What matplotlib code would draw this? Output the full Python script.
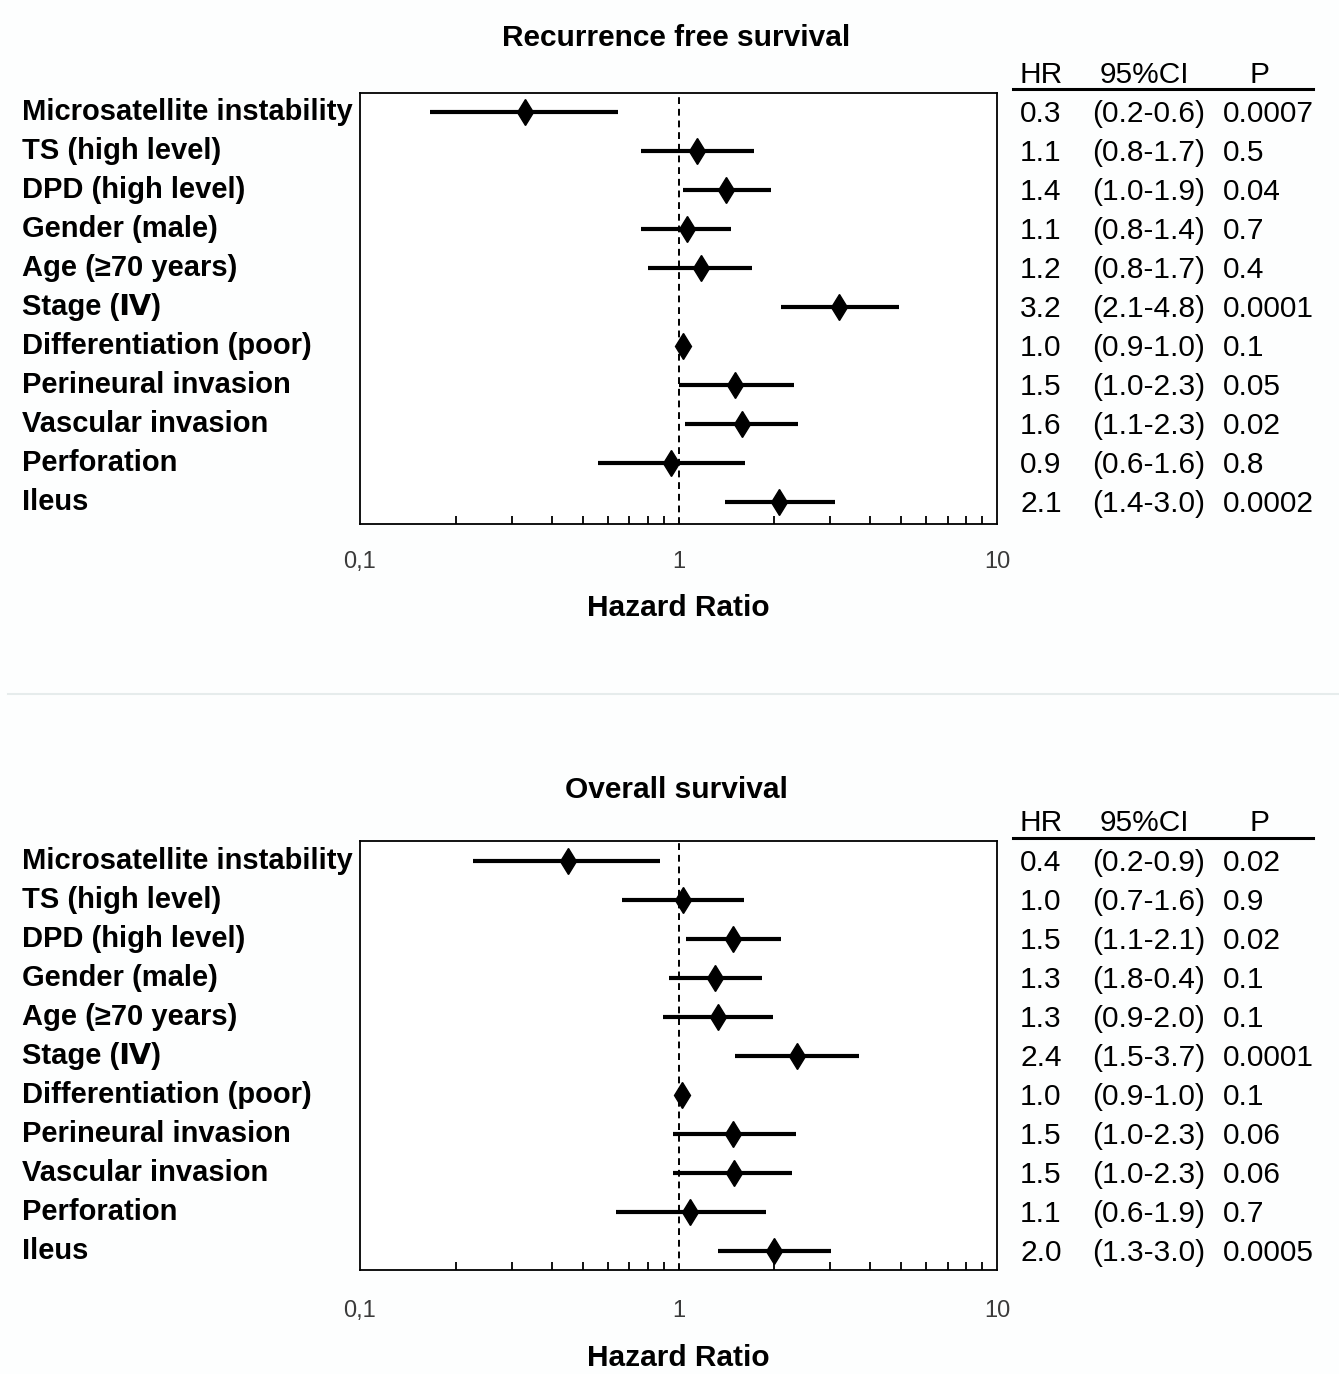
import matplotlib
matplotlib.use("Agg")
import matplotlib.pyplot as plt
import matplotlib.transforms as mtransforms
from matplotlib.lines import Line2D
from matplotlib.ticker import LogLocator, NullFormatter, FixedLocator

plt.rcParams['font.family'] = ['Liberation Sans', 'DejaVu Sans']

labels = ["Microsatellite instability", "TS (high level)", "DPD (high level)",
          "Gender (male)", "Age (\u226570 years)", "Stage (\u2163)", "Differentiation (poor)",
          "Perineural invasion", "Vascular invasion", "Perforation", "Ileus"]

# Recurrence free survival (plotted estimates)
rfs_hr = [0.33, 1.14, 1.41, 1.06, 1.18, 3.19, 1.03, 1.50, 1.58, 0.95, 2.07]
rfs_lo = [0.166, 0.76, 1.03, 0.76, 0.80, 2.10, 0.99, 1.00, 1.05, 0.56, 1.40]
rfs_hi = [0.646, 1.73, 1.95, 1.46, 1.70, 4.92, 1.07, 2.30, 2.37, 1.62, 3.10]
rfs_hr_txt = ["0.3", "1.1", "1.4", "1.1", "1.2", "3.2", "1.0", "1.5", "1.6", "0.9", "2.1"]
rfs_ci_txt = ["(0.2-0.6)", "(0.8-1.7)", "(1.0-1.9)", "(0.8-1.4)", "(0.8-1.7)", "(2.1-4.8)",
              "(0.9-1.0)", "(1.0-2.3)", "(1.1-2.3)", "(0.6-1.6)", "(1.4-3.0)"]
rfs_p_txt = ["0.0007", "0.5", "0.04", "0.7", "0.4", "0.0001", "0.1", "0.05", "0.02", "0.8", "0.0002"]

# Overall survival (plotted estimates)
os_hr = [0.45, 1.03, 1.48, 1.30, 1.33, 2.36, 1.025, 1.48, 1.49, 1.09, 1.99]
os_lo = [0.226, 0.665, 1.056, 0.934, 0.894, 1.50, 0.99, 0.96, 0.96, 0.637, 1.33]
os_hi = [0.875, 1.61, 2.10, 1.83, 1.98, 3.69, 1.06, 2.34, 2.27, 1.88, 3.01]
os_hr_txt = ["0.4", "1.0", "1.5", "1.3", "1.3", "2.4", "1.0", "1.5", "1.5", "1.1", "2.0"]
os_ci_txt = ["(0.2-0.9)", "(0.7-1.6)", "(1.1-2.1)", "(1.8-0.4)", "(0.9-2.0)", "(1.5-3.7)",
             "(0.9-1.0)", "(1.0-2.3)", "(1.0-2.3)", "(0.6-1.9)", "(1.3-3.0)"]
os_p_txt = ["0.02", "0.9", "0.02", "0.1", "0.1", "0.0001", "0.1", "0.06", "0.06", "0.7", "0.0005"]

titles = ["Recurrence free survival", "Overall survival"]
xlabel = "Hazard Ratio"
tick_vals = [0.1, 1, 10]
tick_labels = ["0,1", "1", "10"]
headers = ["HR", "95%CI", "P"]

W, H = 1339, 1374
fig = plt.figure(figsize=(W / 100, H / 100), dpi=100, facecolor='#fdfefe')

def fx(px):
    return px / W

def fy(py):
    return 1 - py / H

panels = [
    dict(top=93, bottom=524, row0=112, title_y=38, head_y=75, line_y=89, tick_y=562, xl_y=608,
         hr=rfs_hr, lo=rfs_lo, hi=rfs_hi, hrt=rfs_hr_txt, cit=rfs_ci_txt, pt=rfs_p_txt, title=titles[0]),
    dict(top=841, bottom=1270, row0=861, title_y=790, head_y=823, line_y=838, tick_y=1311, xl_y=1358,
         hr=os_hr, lo=os_lo, hi=os_hi, hrt=os_hr_txt, cit=os_ci_txt, pt=os_p_txt, title=titles[1]),
]
row_gap = 39.0
left_px, right_px = 360, 997
fs_lab = 21
fs_tab = 21.5
fs_title = 21.5
for p in panels:
    ax = fig.add_axes([fx(left_px), fy(p['bottom']), fx(right_px - left_px), (p['bottom'] - p['top']) / H])
    ax.set_facecolor('white')
    ax.set_xscale('log')
    ax.set_xlim(0.1, 10)
    n = len(labels)
    ytop = -(p['row0'] - p['top']) / row_gap
    ybot = (n - 1) + (p['bottom'] - (p['row0'] + (n - 1) * row_gap)) / row_gap
    ax.set_ylim(ybot, ytop)
    ax.set_yticks([])
    ys = list(range(n))
    ax.axvline(1, color='black', lw=1.4, ls=(0, (3.5, 2.5)), zorder=1)
    ax.hlines(ys, p['lo'], p['hi'], color='black', lw=3.0, zorder=2)
    ax.plot(p['hr'], ys, ls='none', marker='d', color='black', markersize=13.5, zorder=3)
    for s in ax.spines.values():
        s.set_linewidth(1.3)
    ax.xaxis.set_major_locator(FixedLocator(tick_vals))
    ax.xaxis.set_major_formatter(NullFormatter())
    ax.xaxis.set_minor_locator(LogLocator(base=10, subs=range(2, 10)))
    ax.xaxis.set_minor_formatter(NullFormatter())
    ax.tick_params(axis='x', which='major', length=0)
    ax.tick_params(axis='x', which='minor', direction='in', length=6, width=1.3)
    btr = mtransforms.blended_transform_factory(ax.transData, fig.transFigure)
    for v, t in zip(tick_vals, tick_labels):
        ax.text(v, fy(p['tick_y']), t, transform=btr, ha='center', va='center', fontsize=17,
                color='#3a3a3a')
    fig.text(fx(678), fy(p['xl_y']), xlabel, ha='center', va='center', fontsize=fs_title,
             fontweight='bold')
    fig.text(fx(676), fy(p['title_y']), p['title'], ha='center', va='center', fontsize=fs_title,
             fontweight='bold')
    for i in range(n):
        yy = fy(p['row0'] + i * row_gap)
        fig.text(fx(22), yy, labels[i], ha='left', va='center', fontsize=fs_lab, fontweight='bold')
        fig.text(fx(1020), yy - 2 / H, p['hrt'][i], ha='left', va='center', fontsize=fs_tab)
        fig.text(fx(1092), yy - 2 / H, p['cit'][i], ha='left', va='center', fontsize=fs_tab)
        fig.text(fx(1223), yy - 2 / H, p['pt'][i], ha='left', va='center', fontsize=fs_tab)
    hy = fy(p['head_y'])
    fig.text(fx(1020), hy, headers[0], ha='left', va='center', fontsize=fs_tab)
    fig.text(fx(1100), hy, headers[1], ha='left', va='center', fontsize=fs_tab)
    fig.text(fx(1259), hy, headers[2], ha='center', va='center', fontsize=fs_tab)
    fig.add_artist(Line2D([fx(1013), fx(1313)], [fy(p['line_y'])] * 2, color='black', lw=2.2,
                          transform=fig.transFigure))

fig.add_artist(Line2D([fx(8), 1], [fy(694)] * 2, color='#e6ecec', lw=1.5, transform=fig.transFigure))

fig.savefig("out.png", dpi=100, facecolor=fig.get_facecolor())
